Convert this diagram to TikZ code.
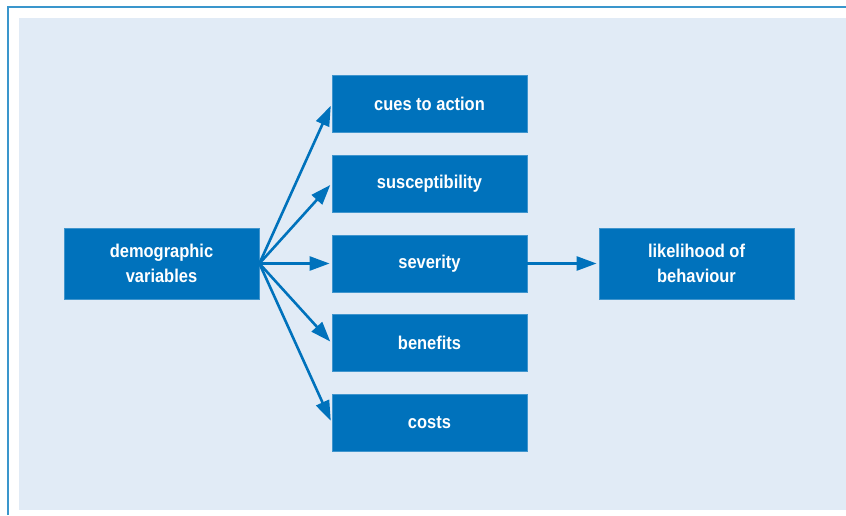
\documentclass[tikz,border=0pt]{standalone}
\usepackage{fontspec}
\setmainfont{Liberation Sans}[FakeStretch=0.89]
\usetikzlibrary{arrows.meta}
\definecolor{frameblue}{HTML}{3A96CC}
\definecolor{bgblue}{HTML}{E1EBF6}
\definecolor{boxblue}{HTML}{0072BC}
\begin{document}
\begin{tikzpicture}[x=1pt,y=-1pt,
  box/.style={fill=boxblue, draw=boxblue!75!white, line width=0.8pt,
    minimum width=195pt, minimum height=57pt, inner sep=0pt, text=white,
    font=\fontsize{18.5}{24.3}\selectfont\bfseries, align=center},
  tallbox/.style={box, minimum height=71pt},
  arr/.style={draw=boxblue, line width=2.6pt,
    -{Triangle[length=20pt,width=14pt]}, shorten >=2pt}]
\useasboundingbox (0,0) rectangle (846,515);
\fill[bgblue] (19,18) rectangle (846,510);
\draw[frameblue, line width=2.2pt] (7.8,515) -- (7.8,6.7) -- (846,6.7);
\node[tallbox] (demo) at (161.5,263.5) {demographic\\variables};
\node[box] (cues) at (429.5,104) {cues to action};
\node[box] (susc) at (429.5,183.5) {susceptibility};
\node[box] (sev) at (429.5,263.5) {severity};
\node[box] (ben) at (429.5,343) {benefits};
\node[box] (costs) at (429.5,422.5) {costs};
\node[tallbox] (lik) at (696.5,263.5) {likelihood of\\behaviour};
\draw[arr] (demo.east) -- (cues.west);
\draw[arr] (demo.east) -- (susc.west);
\draw[arr] (demo.east) -- (sev.west);
\draw[arr] (demo.east) -- (ben.west);
\draw[arr] (demo.east) -- (costs.west);
\draw[arr] (sev.east) -- (lik.west);
\end{tikzpicture}
\end{document}
